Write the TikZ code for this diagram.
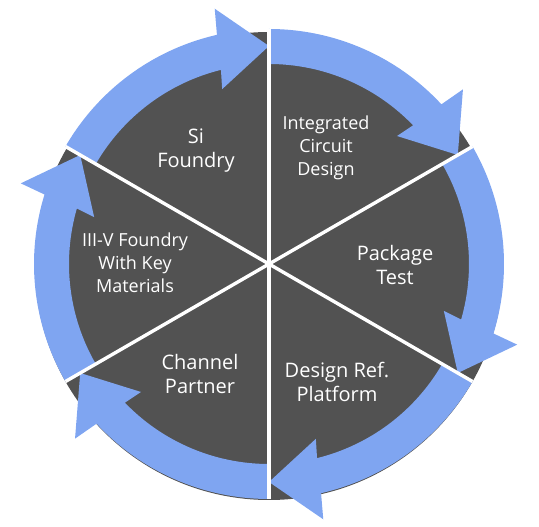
\documentclass[tikz,border=0pt]{standalone}
\usepackage{fontspec}
\setmainfont{Open Sans}
\definecolor{darkfill}{HTML}{525252}
\definecolor{ringblue}{HTML}{7FA5F1}
\tikzset{
  bigtxt/.style={text=white, align=center, font=\fontsize{20}{24}\selectfont},
  smalltxt/.style={text=white, align=center, font=\fontsize{18}{23}\selectfont},
  divider/.style={white, line width=3.4pt},
  ringarrow/.style={fill=ringblue}
}
\begin{document}
\begin{tikzpicture}[x=1pt,y=1pt]
\useasboundingbox (-269,-263) rectangle (270,264);
\coordinate (c) at (0,0);
\fill[darkfill] (0,-2) circle (234);
\foreach \s in {90,30,-30,-90,-150,150} {
  \pgfmathsetmacro\e{\s-60}
  \fill[ringarrow] (\s:235) arc[start angle=\s, end angle={\e+12.8}, radius=235]
    -- ({\e+12}:261) -- (\e:218) -- ({\e+15}:181) -- ({\e+13.9}:200)
    arc[start angle={\e+13.9}, end angle=\s, radius=200] -- cycle;
}
\foreach \a [count=\i] in {30,90,150,210,270,330} {
  \coordinate (r\i) at (\a:235);
  \draw[divider] (c) -- (r\i);
}
\node[bigtxt] (si) at (-73,113) {Si\\Foundry};
\node[smalltxt] (icd) at (57,116) {Integrated\\Circuit\\Design};
\node[bigtxt] (pkg) at (126,-1) {Package\\Test};
\node[bigtxt] (drp) at (68,-118) {Design Ref.\\Platform};
\node[bigtxt] (chp) at (-69,-110) {Channel\\Partner};
\node[smalltxt] (iiiv) at (-134,1) {III-V Foundry\\With Key\\Materials};
\end{tikzpicture}
\end{document}
